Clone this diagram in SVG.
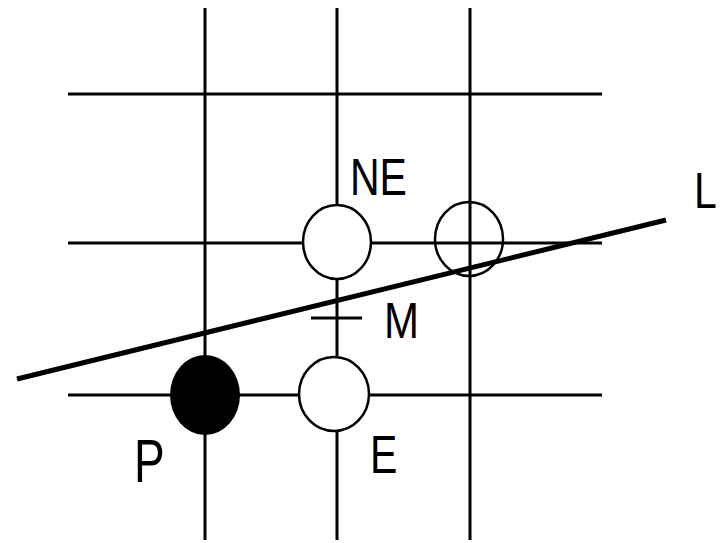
<svg xmlns="http://www.w3.org/2000/svg" width="724" height="543" viewBox="0 0 724 543">
<style>
.g{stroke:#000;stroke-width:3;fill:none}
.c{stroke:#000;stroke-width:2.5;fill:#fff}
.t{font-family:"Liberation Sans",Arial,sans-serif;fill:#000}
</style>
<rect width="724" height="543" fill="#fff"/>
<g id="grid">
<line class="g" x1="205" y1="8" x2="205" y2="540"/>
<line class="g" x1="337" y1="8" x2="337" y2="540"/>
<line class="g" x1="470" y1="8" x2="470" y2="540"/>
<line class="g" x1="68" y1="94" x2="602" y2="94"/>
<line class="g" x1="68" y1="243" x2="602" y2="243"/>
<line class="g" x1="68" y1="395" x2="602" y2="395"/>
</g>
<g id="NE"><ellipse class="c" cx="337" cy="242" rx="34" ry="37"/></g>
<g id="NE2"><ellipse class="c" cx="469" cy="239" rx="34" ry="37" fill="none" style="fill:none"/></g>
<g id="P"><ellipse cx="205" cy="395" rx="35" ry="40" fill="#000"/></g>
<g id="E"><ellipse class="c" cx="334" cy="394" rx="35" ry="37"/></g>
<g id="connectors">
<line x1="17" y1="379" x2="666" y2="220" stroke="#000" stroke-width="5"/>
<line x1="311" y1="318" x2="362" y2="318" stroke="#000" stroke-width="3"/>
</g>
<g id="labels">
<text class="t" font-size="41" transform="translate(350,195) scale(1,1.27)">NE</text>
<text class="t" font-size="42" transform="translate(384,338) scale(1,1.2)">M</text>
<text class="t" font-size="46" transform="translate(134,482) scale(1,1.33)">P</text>
<text class="t" font-size="41" transform="translate(370,473) scale(1,1.33)">E</text>
<text class="t" font-size="41" transform="translate(694,208) scale(1,1.2)">L</text>
</g>
</svg>
